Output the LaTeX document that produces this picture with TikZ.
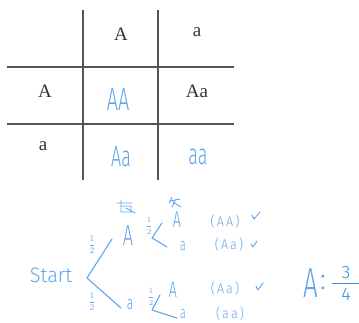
\documentclass[tikz,border=0pt]{standalone}
\usepackage{fontspec}
\setmainfont{Liberation Serif}
\newfontfamily\hand{Fira Sans Light}
\definecolor{inkblue}{RGB}{95,165,235}
\definecolor{darkblue}{RGB}{45,140,225}
\definecolor{gridgray}{RGB}{85,85,85}
\newcommand{\narrow}[1]{\scalebox{0.62}[1]{#1}}
\newcommand{\fsz}[1]{\fontsize{#1}{#1}\selectfont}
\newcommand{\half}{$\displaystyle\frac{1}{2}$}
\tikzset{
  gridline/.style={gridgray, line width=1.1pt},
  typed/.style={text=black!80, font=\fsz{19}, inner sep=0pt},
  hand/.style={text=inkblue, inner sep=0pt},
  pen/.style={inkblue, line width=1.1pt, line cap=round, line join=round}
}
\begin{document}
\begin{tikzpicture}[x=1pt, y=-1pt]
\useasboundingbox (0,0) rectangle (359,322);
% Punnett square
\draw[gridline] (83,10) -- (83,180);
\draw[gridline] (158,10) -- (158,180);
\draw[gridline] (7,67) -- (234,67);
\draw[gridline] (7,124) -- (234,124);
\node[typed] (colA) at (121,34) {A};
\node[typed] (cola) at (197,32) {a};
\node[typed] (rowA) at (45,91) {A};
\node[typed] (rowa) at (43,146) {a};
\node[typed] (cellAa) at (197,91) {Aa};
\node[hand, font=\hand\fsz{32}] (cellAA) at (118,100) {\narrow{AA}};
\node[hand, font=\hand\fsz{29}] (cellAa2) at (121,157) {\narrow{Aa}};
\node[hand, font=\hand\fsz{29}] (cellaa) at (198,157) {\narrow{aa}};
% probability tree
\node[hand, font=\hand\fsz{21}] (start) at (51,275) {\scalebox{0.95}[1]{Start}};
\coordinate (root) at (87,278);
\coordinate (upEnd) at (112,239);
\coordinate (downEnd) at (121,308);
\node[hand, font=\hand\fsz{29}] (A1) at (128,236) {\narrow{A}};
\node[hand, font=\hand\fsz{19}] (a1) at (130,305) {\narrow{a}};
\node[hand, font=\fsz{9}] (pUp) at (92,245) {\half};
\node[hand, font=\fsz{9}] (pDown) at (92,302) {\half};
\draw[pen] (upEnd) -- (root) -- (downEnd);
% second level, upper
\coordinate (upTop) at (162,223);
\coordinate (upMid) at (152,238);
\coordinate (upLow) at (167,247);
\draw[pen] (upTop) -- (upMid) -- (upLow);
\node[hand, font=\fsz{8}] (pUpUp) at (149,226) {\half};
\node[hand, font=\hand\fsz{23}] (AA2) at (177,220) {\narrow{A}};
\node[hand, font=\hand\fsz{17}] (aa2) at (183,246) {\narrow{a}};
% second level, lower
\coordinate (dnTop) at (160,295);
\coordinate (dnMid) at (152,310);
\coordinate (dnLow) at (177,318);
\draw[pen] (dnTop) -- (dnMid) -- (dnLow);
\node[hand, font=\fsz{8}] (pDnUp) at (151,297) {\half};
\node[hand, font=\hand\fsz{23}] (Aa3) at (173,290) {\narrow{A}};
\node[hand, font=\hand\fsz{17}] (aa3) at (183,314) {\narrow{a}};
% crossed out scribbles
\draw[pen, line width=0.9pt] (117,203) -- (132,203) (121,200) -- (121,212)
  (121,206) -- (131,206) -- (131,212) -- (121,212) (126,208) -- (135,213);
\draw[pen, line width=0.9pt] (172,197) -- (169,203) (170,201) -- (180,199)
  (175,201) -- (172,207) (173,202) -- (181,207);
% outcomes
\node[hand, font=\hand\fsz{14}] (oAA) at (225,222) {\scalebox{0.9}[1]{(\,A\,A\,)}};
\node[hand, font=\hand\fsz{14}] (oAa) at (229,245) {\scalebox{0.9}[1]{(\,A\,a\,)}};
\node[hand, font=\hand\fsz{14}] (oAa2) at (225,289) {\scalebox{0.9}[1]{(\,A\,a\,)}};
\node[hand, font=\hand\fsz{14}] (oaa) at (230,314) {\scalebox{0.9}[1]{(\,a\,a\,)}};
\draw[pen, line width=0.9pt] (252,215) -- (254,219) -- (260,212);
\draw[pen, line width=0.9pt] (251,244) -- (253,247) -- (257,241);
\draw[pen, line width=0.9pt] (256,286) -- (258,290) -- (263,283);
% result
\node[hand, font=\hand\fsz{42}] (res) at (311,283) {\narrow{A}};
\node[hand, font=\hand\fsz{30}] (colon) at (323,283) {:};
\node[hand, text=darkblue, font=\hand\fsz{18}] (three) at (346,273) {3};
\node[hand, text=darkblue, font=\hand\fsz{18}] (four) at (346,294) {4};
\coordinate (barL) at (332,283);
\coordinate (barR) at (359,283);
\draw[darkblue, line width=1pt] (barL) -- (barR);
\end{tikzpicture}
\end{document}
